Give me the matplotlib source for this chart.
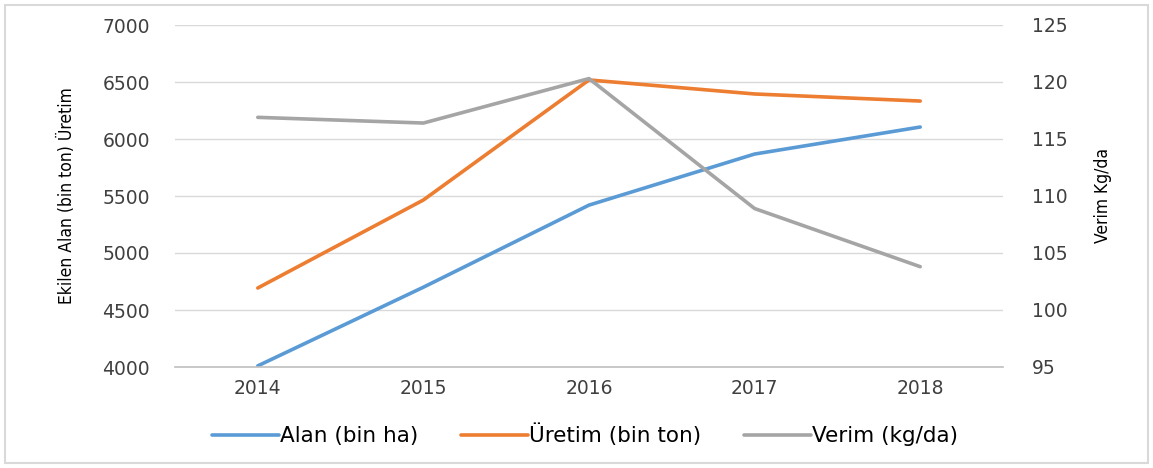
import matplotlib
matplotlib.use("Agg")
import matplotlib.pyplot as plt
from matplotlib.patches import Rectangle

years = ["2014", "2015", "2016", "2017", "2018"]
alan = [4010, 4700, 5420, 5868, 6105]
uretim = [4693, 5465, 6518, 6395, 6333]
verim = [116.9, 116.4, 120.3, 108.9, 103.8]

left_ticks = [4000, 4500, 5000, 5500, 6000, 6500, 7000]
right_ticks = [95, 100, 105, 110, 115, 120, 125]

c_alan = "#5b9bd5"
c_uretim = "#ed7d31"
c_verim = "#a5a5a5"

fig = plt.figure(figsize=(11.53, 4.68), dpi=100)
fig.patch.set_facecolor("white")
fig.add_artist(Rectangle((5/1153, 5/468), 1143/1153, 458/468, transform=fig.transFigure,
                         fill=False, edgecolor="#d9d9d9", linewidth=1.5))

ax = fig.add_axes([175/1153, 1-367/468, 828/1153, 342/468])
ax2 = ax.twinx()

x = list(range(len(years)))
l1, = ax.plot(x, alan, color=c_alan, lw=2.6, solid_capstyle="round", label="Alan (bin ha)")
l2, = ax.plot(x, uretim, color=c_uretim, lw=2.6, solid_capstyle="round", label="Üretim (bin ton)")
l3, = ax2.plot(x, verim, color=c_verim, lw=2.6, solid_capstyle="round", label="Verim (kg/da)")

ax.set_xlim(-0.5, len(years)-0.5)
ax.set_ylim(4000, 7000)
ax2.set_ylim(95, 125)
ax.set_yticks(left_ticks)
ax2.set_yticks(right_ticks)
ax.set_xticks(x)
ax.set_xticklabels(years)

for a in (ax, ax2):
    for s in a.spines.values():
        s.set_visible(False)
    a.tick_params(length=0, labelsize=13.5, colors="#404040")
ax.tick_params(axis="y", pad=18)
ax2.tick_params(axis="y", pad=21)
ax.tick_params(axis="x", pad=9)
ax.grid(axis="y", color="#d9d9d9", lw=1)
ax.spines["bottom"].set_visible(True)
ax.spines["bottom"].set_color("#bfbfbf")
ax.spines["bottom"].set_linewidth(1.2)
ax.set_axisbelow(True)

ax.set_ylabel("Ekilen Alan (bin ton) Üretim", family="DejaVu Sans", stretch="condensed",
              fontsize=12.5, labelpad=19)
ax2.set_ylabel("Verim Kg/da", family="DejaVu Sans", stretch="condensed",
               fontsize=12.5, labelpad=19)

fig.legend(handles=[l1, l2, l3], loc="center", bbox_to_anchor=(585/1153, 1-435/468),
           ncol=3, frameon=False, fontsize=15.5, handlelength=3.1, handletextpad=0.05,
           columnspacing=2.0)

fig.savefig("out.png", dpi=100)
